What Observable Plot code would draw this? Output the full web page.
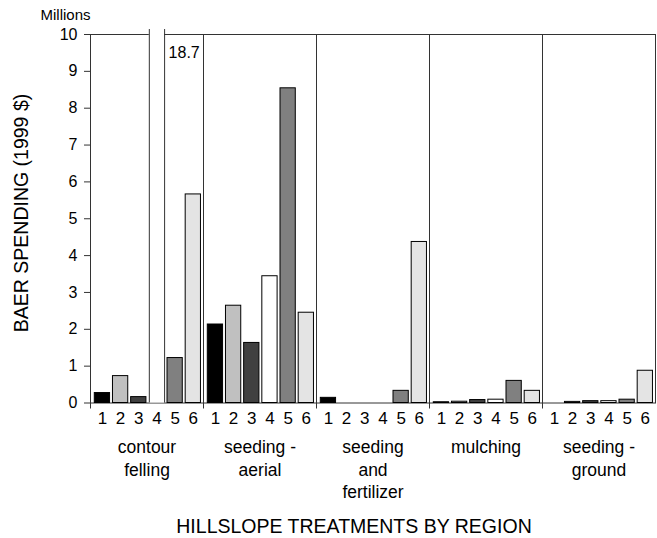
<!DOCTYPE html>
<html>
<head>
<meta charset="utf-8">
<script src="https://cdn.jsdelivr.net/npm/d3@7"></script>
<script src="https://cdn.jsdelivr.net/npm/@observablehq/plot@0.6"></script>
<style>
  body { margin: 0; background: #fff; }
  #chart { width: 657px; height: 538px; }
</style>
</head>
<body>
<div id="chart"></div>
<script>
// ---- data ----
const groups = ["contour felling", "seeding - aerial", "seeding and fertilizer", "mulching", "seeding - ground"];
const groupLabels = ["contour\nfelling", "seeding -\naerial", "seeding\nand\nfertilizer", "mulching", "seeding -\nground"];
const regions = [1, 2, 3, 4, 5, 6];
const regionColors = ["#000000", "#c0c0c0", "#404040", "#ffffff", "#808080", "#e4e4e4"];
const contourFelling    = [0.27, 0.73, 0.16, 18.7, 1.22, 5.66];
const seedingAerial     = [2.13, 2.64, 1.63, 3.44, 8.54, 2.45];
const seedingFertilizer = [0.14, 0, 0, 0, 0.33, 4.37];
const mulching          = [0.02, 0.035, 0.08, 0.09, 0.6, 0.33];
const seedingGround     = [0, 0.03, 0.05, 0.05, 0.09, 0.875];
const yTicks = [0, 1, 2, 3, 4, 5, 6, 7, 8, 9, 10];
const yLabel = "BAER SPENDING (1999 $)";
const xLabel = "HILLSLOPE TREATMENTS BY REGION";
const unitLabel = "Millions";

// ---- build table ----
const series = [contourFelling, seedingAerial, seedingFertilizer, mulching, seedingGround];
const rows = [];
groups.forEach((g, gi) => series[gi].forEach((v, ri) => rows.push({group: g, region: regions[ri], value: v})));
const groupRows = groups.map((g, i) => ({group: g, label: groupLabels[i]}));

const yMax = 10;
const halfBar = 0.42;
const overshoot = 0.135;
const xDomain = [0.344, 6.56];
const normal = rows.filter(d => d.value <= yMax);
const broken = rows.filter(d => d.value > yMax);
const lineColor = "#333";

const plot = Plot.plot({
  width: 657,
  height: 538,
  marginTop: 34,
  marginBottom: 135.5,
  marginLeft: 88,
  marginRight: 0,
  style: {fontFamily: "'Liberation Sans', Arial, sans-serif", fontSize: "16px", background: "#fff", color: "#000"},
  fx: {domain: groups, padding: 0, axis: null},
  x: {domain: xDomain},
  y: {domain: [0, yMax]},
  color: {type: "ordinal", domain: regions, range: regionColors},
  marks: [
    Plot.frame({stroke: lineColor}),
    Plot.ruleX(groupRows, {fx: "group", x: () => xDomain[0], y1: 0, y2: 0, insetBottom: -6, stroke: lineColor}),
    Plot.axisY({ticks: yTicks, tickFormat: "d", tickSize: 6, tickPadding: 7, fontSize: 16, label: null, stroke: lineColor}),
    Plot.axisX({ticks: regions, tickFormat: "d", tickSize: 0, tickPadding: 9, fontSize: 17, label: null}),
    Plot.rectY(normal, {fx: "group", x1: d => d.region - halfBar, x2: d => d.region + halfBar, y1: 0, y2: "value", fill: "region", stroke: "#000"}),
    Plot.rectY(broken, {fx: "group", x1: d => d.region - halfBar, x2: d => d.region + halfBar, y1: 0, y2: yMax + overshoot, fill: "region"}),
    Plot.ruleX(broken, {fx: "group", x: d => d.region - halfBar, y1: 0, y2: yMax + overshoot, stroke: lineColor}),
    Plot.ruleX(broken, {fx: "group", x: d => d.region + halfBar, y1: 0, y2: yMax + overshoot, stroke: lineColor}),
    Plot.text(broken, {fx: "group", x: d => d.region + halfBar, y: yMax, text: d => d3.format(".1f")(d.value), textAnchor: "start", lineAnchor: "middle", dx: 4, dy: 18.6, fontSize: 16}),
    Plot.text(groupRows, {fx: "group", text: "label", frameAnchor: "bottom", lineAnchor: "top", dy: 34, fontSize: 17.5, lineHeight: 1.29}),
    Plot.text([{group: groups[0], t: unitLabel}], {fx: "group", text: "t", frameAnchor: "top-left", textAnchor: "start", lineAnchor: "middle", dx: -50, dy: -19, fontSize: 15}),
    Plot.text([{group: groups[0], t: yLabel}], {fx: "group", text: "t", frameAnchor: "left", rotate: -90, textAnchor: "middle", lineAnchor: "middle", dx: -69, dy: -5.75, fontSize: 19.5}),
    Plot.text([{group: groups[2], t: xLabel}], {fx: "group", text: "t", frameAnchor: "bottom", textAnchor: "middle", lineAnchor: "middle", dx: -19, dy: 123.5, fontSize: 19.5})
  ]
});
document.getElementById("chart").appendChild(plot);
</script>
</body>
</html>
